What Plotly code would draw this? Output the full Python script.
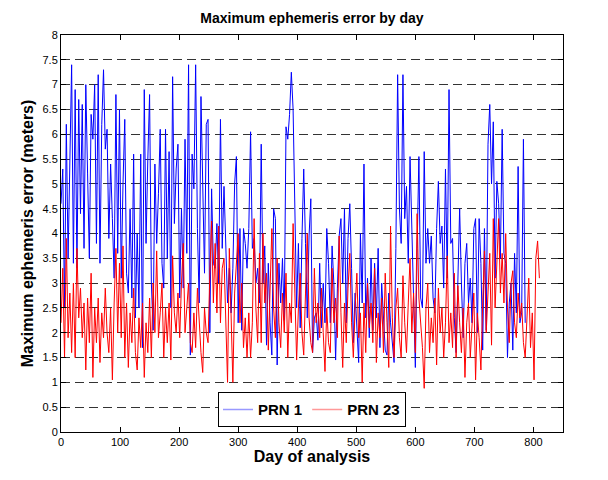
import plotly.graph_objects as go

DAY_STEP = 3

prn1_values = [
    4.6, 5.3, 2.5, 6.2, 3.5, 5.6, 7.4, 3.4, 6.9, 3.3,
    6.7, 4.4, 6.6, 3.7, 7.0, 5.2, 3.5, 6.4, 5.9, 7.0,
    3.8, 7.2, 3.4, 6.2, 7.3, 5.7, 6.1, 3.9, 5.4, 4.3,
    3.1, 6.8, 3.6, 6.5, 3.1, 5.0, 6.3, 3.2, 2.8, 4.5,
    2.7, 5.6, 2.3, 4.0, 2.5, 5.6, 1.7, 6.9, 3.8, 5.5,
    6.8, 3.0, 2.05, 5.4, 3.8, 4.8, 6.1, 3.4, 2.9, 6.1,
    3.5, 5.65, 2.5, 7.16, 4.2, 5.3, 5.8, 2.7, 4.5, 2.9,
    5.9, 3.6, 7.4, 1.55, 5.6, 4.9, 7.4, 4.1, 2.6, 6.76,
    4.9, 3.2, 6.2, 6.3, 2.0, 4.9, 3.4, 3.3, 4.2, 3.0,
    6.3, 3.7, 4.95, 3.5, 2.6, 3.3, 2.4, 3.3, 5.0, 5.55,
    2.2, 4.1, 2.05, 4.1, 3.8, 3.3, 4.1, 6.05, 3.7, 3.9,
    3.0, 3.3, 2.6, 5.8, 3.0, 3.75, 1.75, 3.4, 2.2, 1.55,
    4.5, 4.3, 1.35, 3.4, 2.6, 3.5, 2.25, 6.15, 5.9, 6.4,
    7.25, 6.5, 4.6, 2.5, 3.8, 2.1, 3.9, 5.3, 3.8, 2.3,
    3.95, 4.7, 1.6, 2.3, 2.4, 1.85, 3.4, 2.1, 3.0, 2.2,
    4.1, 3.4, 2.2, 3.75, 3.0, 1.45, 2.9, 3.95, 4.3, 3.0,
    4.5, 2.2, 3.9, 4.6, 3.3, 1.8, 2.8, 2.2, 1.4, 4.0,
    2.6, 5.4, 2.3, 3.1, 1.9, 3.5, 2.05, 3.4, 2.3, 3.7,
    1.7, 3.0, 2.25, 1.65, 1.55, 2.8, 2.2, 1.8, 1.4, 3.7,
    7.2, 4.5, 3.8, 7.2, 4.3, 4.95, 3.4, 5.55, 4.1, 2.6,
    1.3, 3.7, 5.55, 2.7, 2.5, 5.65, 3.4, 4.1, 3.4, 3.95,
    2.7, 2.4, 4.1, 5.05, 3.8, 4.15, 2.9, 5.3, 3.1, 6.9,
    3.8, 3.9, 2.3, 1.6, 3.4, 4.5, 3.0, 1.9, 3.4, 3.8,
    2.6, 3.1, 2.2, 4.1, 4.3, 2.0, 4.3, 3.4, 1.65, 4.1,
    2.05, 5.8, 6.6, 5.0, 6.25, 3.1, 5.05, 4.6, 3.5, 6.1,
    3.6, 3.4, 1.5, 2.6, 3.0, 1.65, 3.6, 2.4, 5.35, 2.2,
    2.4, 5.9, 2.2,
]

prn23_values = [
    2.2, 3.3, 1.5, 3.9, 1.9, 2.8, 1.6, 3.0, 1.5, 3.7,
    2.3, 2.9, 1.9, 2.6, 1.25, 2.7, 1.8, 3.2, 1.1, 2.5,
    1.8, 2.7, 1.4, 2.4, 1.9, 2.9, 2.0, 1.6, 2.5, 1.05,
    2.6, 3.7, 2.0, 3.4, 1.9, 3.75, 1.5, 2.6, 1.3, 2.4,
    1.8, 2.9, 1.6, 1.25, 2.3, 1.7, 2.6, 1.1, 2.2, 1.6,
    2.7, 1.5, 3.0, 2.0, 3.65, 1.9, 2.4, 3.0, 1.5, 2.5,
    1.8, 2.6, 1.45, 3.55, 2.4, 2.0, 2.8, 1.9, 3.0, 3.8,
    2.0, 2.6, 3.0, 1.8, 1.6, 2.4, 1.7, 2.9, 2.2, 1.6,
    1.2, 2.5, 2.0, 1.8, 3.2, 4.25, 2.6, 3.8, 2.4, 4.15,
    2.2, 3.3, 3.5, 2.0, 1.0, 3.7, 2.3, 1.0, 2.8, 3.3,
    4.0, 2.2, 3.0, 1.7, 2.3, 1.5, 2.4, 1.5, 2.2, 4.3,
    2.5, 1.8, 3.6, 1.8, 4.0, 2.6, 3.2, 1.65, 2.8, 4.1,
    2.5, 1.9, 3.5, 2.2, 1.7, 2.8, 2.0, 3.2, 1.5, 2.6,
    2.2, 4.2, 2.8, 1.45, 2.5, 3.2, 2.0, 1.55, 2.8, 4.0,
    2.3, 1.8, 1.6, 3.3, 2.2, 2.6, 1.9, 2.9, 2.0, 1.22,
    2.5, 1.8, 1.6, 3.3, 2.2, 2.7, 1.9, 3.95, 2.4, 1.3,
    2.6, 1.8, 2.9, 3.6, 2.2, 1.5, 2.5, 3.2, 1.9, 2.4,
    1.0, 2.6, 1.6, 3.0, 2.1, 2.6, 1.8, 3.3, 1.4, 2.4,
    1.9, 2.7, 1.6, 3.2, 2.2, 1.3, 4.15, 2.3, 1.5, 2.5,
    2.9, 1.9, 1.5, 3.15, 2.2, 1.6, 2.6, 3.5, 2.0, 2.8,
    1.6, 4.4, 2.7, 2.2, 1.7, 0.88, 2.5, 3.0, 1.6, 2.3,
    1.8, 2.7, 1.35, 2.9, 2.0, 2.5, 1.5, 2.2, 3.55, 1.8,
    2.4, 1.7, 3.2, 1.5, 2.95, 2.2, 1.6, 2.5, 1.1, 2.2,
    2.6, 1.5, 2.3, 2.8, 1.05, 2.4, 1.9, 1.25, 2.6, 3.65,
    2.0, 2.8, 3.6, 1.75, 4.3, 2.5, 3.3, 4.3, 2.8, 3.6,
    2.6, 4.0, 2.5, 1.8, 3.0, 3.25, 2.2, 1.9, 2.8, 2.3,
    2.6, 1.8, 1.5, 2.4, 3.1, 1.7, 2.4, 1.05, 3.5, 3.85,
    3.1,
]

prn1_days = [i * DAY_STEP for i in range(len(prn1_values))]
prn23_days = [i * DAY_STEP for i in range(len(prn23_values))]

x_ticks = [0, 100, 200, 300, 400, 500, 600, 700, 800]
series_names = ["PRN 1", "PRN 23"]

FONT = "Liberation Sans, Arial, Helvetica, sans-serif"

# The page body has an 8px margin, so the figure is sized to fit inside the window.
W, H = 600, 472

fig = go.Figure()
fig.add_trace(go.Scatter(
    x=prn1_days, y=prn1_values, mode="lines", name=series_names[0],
    line=dict(color="#0000ff", width=1), showlegend=False, legendgroup="a",
))
fig.add_trace(go.Scatter(
    x=prn23_days, y=prn23_values, mode="lines", name=series_names[1],
    line=dict(color="#ff0000", width=1), showlegend=False, legendgroup="b",
))
# legend entries (the reference legend shows lighter, anti-aliased strokes)
fig.add_trace(go.Scatter(
    x=[None], y=[None], mode="lines", name="<b>%s</b>" % series_names[0],
    line=dict(color="#9999ff", width=1.5), legendgroup="a",
))
fig.add_trace(go.Scatter(
    x=[None], y=[None], mode="lines", name="<b>%s</b>" % series_names[1],
    line=dict(color="#ff9999", width=1.5), legendgroup="b",
))

fig.update_layout(
    width=W, height=H,
    margin=dict(l=53, r=45, t=27, b=48),
    paper_bgcolor="white", plot_bgcolor="white",
    font=dict(family=FONT, color="black", size=11),
    title=dict(text="<b>Maximum ephemeris error by day</b>", x=0.5, xref="paper",
               xanchor="center", y=1 - 10 / H, yref="container", yanchor="middle",
               font=dict(size=14, family=FONT, color="black")),
    showlegend=True,
    legend=dict(orientation="h", x=0.5, xanchor="center", y=0.012, yanchor="bottom",
                bgcolor="white", bordercolor="black", borderwidth=1,
                font=dict(size=15, family=FONT, color="black"),
                itemwidth=30, tracegroupgap=0),
)

fig.update_xaxes(
    range=[0, 850], tickvals=x_ticks, ticks="inside", ticklen=5, tickcolor="black",
    showline=True, linecolor="black", linewidth=1, mirror="ticks",
    showgrid=False, zeroline=False, automargin=False,
    tickfont=dict(size=11, family=FONT, color="black"),
    title=dict(text="<b>Day of analysis</b>", font=dict(size=16, family=FONT, color="black"),
               standoff=2),
)
fig.update_yaxes(
    range=[0, 8], dtick=0.5, tick0=0, ticks="inside", ticklen=5, tickcolor="black",
    showline=True, linecolor="black", linewidth=1, mirror="ticks",
    showgrid=True, gridcolor="#333333", gridwidth=1, griddash="9px,5px",
    zeroline=False, automargin=False,
    tickfont=dict(size=11, family=FONT, color="black"),
    title=dict(text="<b>Maximum ephemeris error (meters)</b>",
               font=dict(size=16, family=FONT, color="black"), standoff=4),
)

fig.write_html("out.html")
